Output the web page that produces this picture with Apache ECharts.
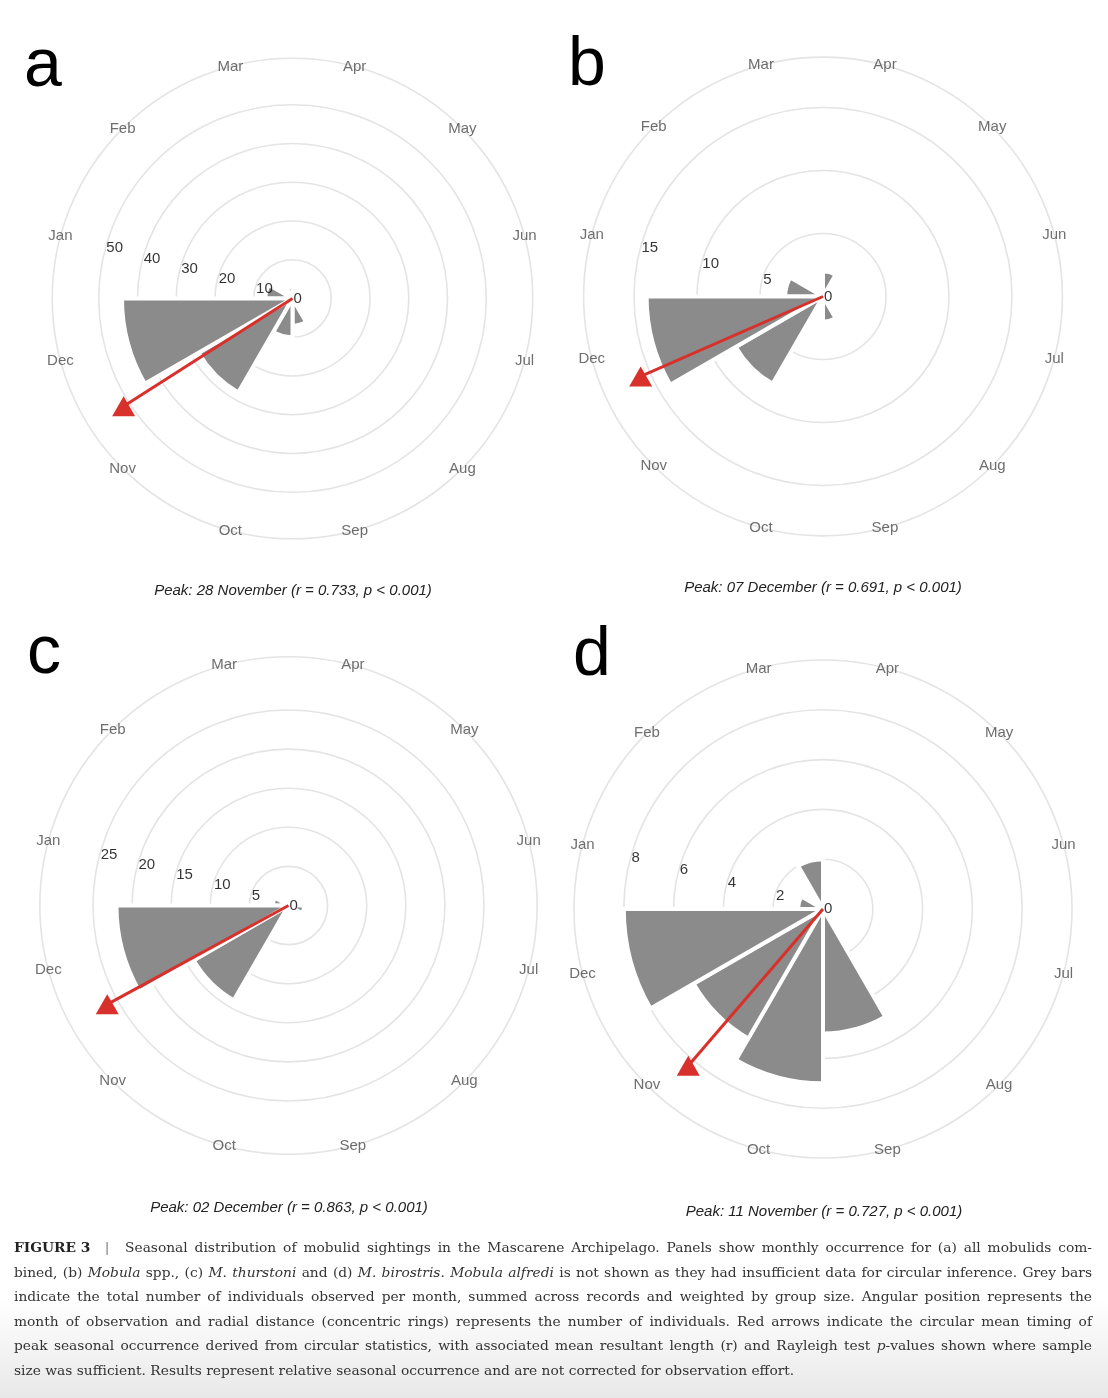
<!DOCTYPE html>
<html>
<head>
<meta charset="utf-8">
<title>Seasonal distribution of mobulid sightings</title>
<script src="https://cdn.jsdelivr.net/npm/echarts@6.0.0/dist/echarts.min.js"></script>
<style>
  html, body { margin: 0; padding: 0; background: #fff; }
  #chart { width: 1108px; height: 1398px; }
</style>
</head>
<body>
<div id="chart"></div>
<script>
// months around the circle (Jan starts at 9 o'clock, clockwise)
const months = ['Jan', 'Feb', 'Mar', 'Apr', 'May', 'Jun', 'Jul', 'Aug', 'Sep', 'Oct', 'Nov', 'Dec'];

// individuals per month
const countsA = [7, 0, 3, 0, 0, 0, 0, 0, 7, 10, 28, 44]; // all mobulids
const countsB = [3, 0, 0, 2, 0, 0, 0, 0, 2, 0, 8, 14];   // Mobula spp.
const countsC = [2, 0, 0, 0, 0, 0, 2, 0, 0, 0, 14, 22];  // M. thurstoni
const countsD = [1, 0, 2, 0, 0, 0, 0, 0, 5, 7, 6, 8];    // M. birostris

// ring labels
const ticksA = [0, 10, 20, 30, 40, 50];
const ticksB = [0, 5, 10, 15];
const ticksC = [0, 5, 10, 15, 20, 25];
const ticksD = [0, 2, 4, 6, 8];

// radial limit of each panel (outer circle)
const limits = [62, 19, 31.8, 10];

// circular mean: day of year and arrow length (panel units)
const peakDays = [332, 341, 336, 315];
const arrowLengths = [51.7, 15.8, 26.4, 8.3];
const peakLabels = [
  'Peak: 28 November (r = 0.733, p < 0.001)',
  'Peak: 07 December (r = 0.691, p < 0.001)',
  'Peak: 02 December (r = 0.863, p < 0.001)',
  'Peak: 11 November (r = 0.727, p < 0.001)'
];
const panelLetters = ['a', 'b', 'c', 'd'];

// caption, one entry per printed line: [text, style]
const caption = [
  [['FIGURE\u00a03\u00a0\u00a0\u00a0', 'b'], ['|\u00a0\u00a0', 'bar'], [' Seasonal distribution of mobulid sightings in the Mascarene Archipelago. Panels show monthly occurrence for (a) all mobulids com-', 'n']],
  [['bined, (b) ', 'n'], ['Mobula', 'i'], [' spp., (c) ', 'n'], ['M. thurstoni', 'i'], [' and (d) ', 'n'], ['M. birostris. Mobula alfredi', 'i'], [' is not shown as they had insufficient data for circular inference. Grey bars', 'n']],
  [['indicate the total number of individuals observed per month, summed across records and weighted by group size. Angular position represents the', 'n']],
  [['month of observation and radial distance (concentric rings) represents the number of individuals. Red arrows indicate the circular mean timing of', 'n']],
  [['peak seasonal occurrence derived from circular statistics, with associated mean resultant length (r) and Rayleigh test ', 'n'], ['p', 'i'], ['-values shown where sample', 'n']],
  [['size was sufficient. Results represent relative seasonal occurrence and are not corrected for observation effort.', 'n']]
];

// ---- layout / styling ----
const panels = [
  { center: [292.5, 298.5], scale: 3.875, letter: [24, 67], peak: [293, 591] },
  { center: [823, 296.5], scale: 12.6, letter: [568, 66], peak: [823, 588] },
  { center: [288.5, 905.5], scale: 7.82, letter: [27, 654], peak: [289, 1208] },
  { center: [823, 909], scale: 24.9, letter: [573, 656], peak: [824, 1212] }
];
const SANS = '"Liberation Sans", Arial, sans-serif';
const SERIF = '"DejaVu Serif", "Liberation Serif", serif';
const RED = '#d8302a';
const BAR = '#8b8b8b';
const RING = '#e4e4e4';

const data = [
  { counts: countsA, ticks: ticksA },
  { counts: countsB, ticks: ticksB },
  { counts: countsC, ticks: ticksC },
  { counts: countsD, ticks: ticksD }
];

const polar = [], angleAxis = [], radiusAxis = [], series = [], graphic = [];

data.forEach((d, i) => {
  const p = panels[i];
  const limit = limits[i];
  const inner = d.ticks[d.ticks.length - 1];
  const base = i * 3;

  // 0: bars + rings, 1: outer circle + labels, 2: arrow (continuous angle)
  polar.push(
    { center: p.center, radius: inner * p.scale },
    { center: p.center, radius: limit * p.scale },
    { center: p.center, radius: limit * p.scale }
  );
  angleAxis.push(
    {
      polarIndex: base, type: 'category', data: months, startAngle: 180, clockwise: true,
      axisLine: { show: false }, axisTick: { show: false }, axisLabel: { show: false },
      splitLine: { show: false }
    },
    {
      polarIndex: base + 1, type: 'category', data: months, startAngle: 180, clockwise: true,
      axisLine: { show: true, lineStyle: { color: RING, width: 1.6 } },
      axisTick: { show: false }, axisLabel: { show: false }, splitLine: { show: false }
    },
    { polarIndex: base + 2, type: 'value', min: 0, max: 365, startAngle: 180, clockwise: true, show: false }
  );
  radiusAxis.push(
    {
      polarIndex: base, type: 'value', min: 0, max: inner, interval: d.ticks[1],
      axisLine: { show: false }, axisTick: { show: false }, axisLabel: { show: false },
      splitLine: { show: true, lineStyle: { color: RING, width: 1.6 } }
    },
    { polarIndex: base + 1, type: 'value', min: 0, max: limit, show: false },
    { polarIndex: base + 2, type: 'value', min: 0, max: limit, show: false }
  );

  series.push({
    type: 'bar', coordinateSystem: 'polar', polarIndex: base,
    data: d.counts, barCategoryGap: '0%',
    itemStyle: { color: BAR, borderColor: '#fff', borderWidth: 4 },
    silent: true, z: 2
  });
  series.push({
    type: 'scatter', coordinateSystem: 'polar', polarIndex: base + 1,
    symbolSize: 0, silent: true, z: 3,
    data: months.map(m => ({ name: m, value: [limit, m] })),
    label: { show: true, position: 'inside', formatter: '{b}', color: '#4a4a4a', fontSize: 15, fontFamily: SANS }
  });
  series.push({
    type: 'scatter', coordinateSystem: 'polar', polarIndex: base + 1,
    symbolSize: 0, silent: true, z: 7,
    data: d.ticks.map(t => ({ name: String(t), value: [t, 'Jan'] })),
    label: { show: true, position: 'right', distance: 1, formatter: '{b}', color: '#000', fontSize: 15, fontFamily: SANS }
  });
  series.push({
    type: 'line', coordinateSystem: 'polar', polarIndex: base + 2,
    data: [[0, peakDays[i]], [arrowLengths[i], peakDays[i]]],
    symbol: 'none', lineStyle: { color: RED, width: 3 }, silent: true, z: 5
  });
  series.push({
    type: 'scatter', coordinateSystem: 'polar', polarIndex: base + 2,
    data: [[arrowLengths[i], peakDays[i]]],
    symbol: 'triangle', symbolSize: [23, 20], itemStyle: { color: RED, opacity: 1 }, silent: true, z: 6
  });

  graphic.push({
    type: 'text', x: p.letter[0], y: p.letter[1], silent: true,
    style: { text: panelLetters[i], font: '68px ' + SANS, fill: '#000', align: 'left', verticalAlign: 'middle', textAlign: 'left', textVerticalAlign: 'middle' }
  });
  graphic.push({
    type: 'text', x: p.peak[0], y: p.peak[1], silent: true,
    style: { text: peakLabels[i], font: 'italic 15px ' + SANS, fill: '#222', align: 'center', verticalAlign: 'middle', textAlign: 'center', textVerticalAlign: 'middle' }
  });
});

// caption: justified lines, words placed one by one
const ctx = document.createElement('canvas').getContext('2d');
const capLeft = 14, capRight = 1092, lastLineRight = 795;
const capY = [1248.5, 1273, 1297.5, 1322, 1346.5, 1371];
// size the serif so the last (unjustified) line ends where it does in print
ctx.font = '100px ' + SERIF;
const capSize = Math.min(16, 100 * (lastLineRight - capLeft) / ctx.measureText(caption[5][0][0]).width);
const capFonts = {
  n: capSize + 'px ' + SERIF,
  i: 'italic ' + capSize + 'px ' + SERIF,
  b: 'bold ' + capSize + 'px ' + SERIF,
  bar: capSize + 'px ' + SERIF
};
const capColors = { n: '#333', i: '#333', b: '#222', bar: '#777' };
const measure = (text, st) => { ctx.font = capFonts[st]; return ctx.measureText(text).width; };

caption.forEach((segs, li) => {
  const words = [[]];
  segs.forEach(([text, st]) => {
    text.split(' ').forEach((part, k) => {
      if (k > 0) words.push([]);
      if (part) words[words.length - 1].push([part, st]);
    });
  });
  const ws = words.filter(w => w.length);
  const widths = ws.map(w => w.reduce((s, [t, st]) => s + measure(t, st), 0));
  const total = widths.reduce((a, b) => a + b, 0);
  const justify = li < caption.length - 1;
  const gap = justify ? (capRight - capLeft - total) / (ws.length - 1) : measure(' ', 'n');
  let x = capLeft;
  ws.forEach((w, wi) => {
    let px = x;
    w.forEach(([t, st]) => {
      graphic.push({
        type: 'text', x: px, y: capY[li], silent: true, z: 10,
        style: { text: t, font: capFonts[st], fill: capColors[st], align: 'left', verticalAlign: 'middle', textAlign: 'left', textVerticalAlign: 'middle' }
      });
      px += measure(t, st);
    });
    x += widths[wi] + gap;
  });
});

// faint grey fade at the bottom of the page
graphic.unshift({
  type: 'rect', silent: true, z: 0,
  shape: { x: 0, y: 1300, width: 1108, height: 98 },
  style: {
    fill: new echarts.graphic.LinearGradient(0, 0, 0, 1, [
      { offset: 0, color: '#ffffff' },
      { offset: 1, color: '#e8e8e8' }
    ])
  }
});

const chart = echarts.init(document.getElementById('chart'));
chart.setOption({
  animation: false,
  backgroundColor: '#fff',
  polar: polar,
  angleAxis: angleAxis,
  radiusAxis: radiusAxis,
  series: series,
  graphic: graphic
});
</script>
</body>
</html>
